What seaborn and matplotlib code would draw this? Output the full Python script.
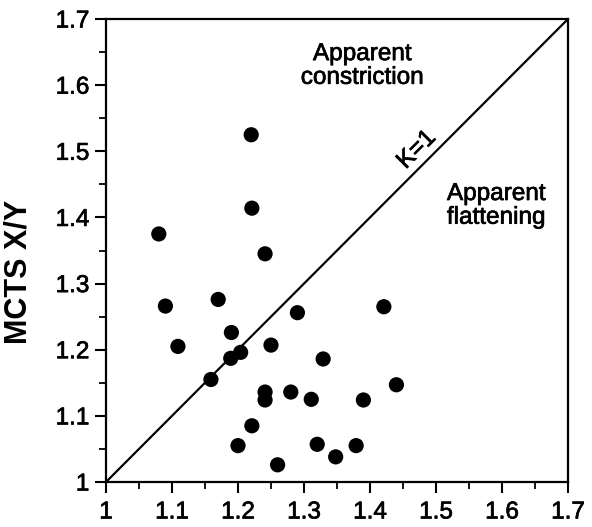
import matplotlib
matplotlib.use("Agg")
import matplotlib.pyplot as plt
import matplotlib.patheffects as pe
from matplotlib.ticker import MultipleLocator
import seaborn as sns
import pandas as pd

# Observed X/Y ratios (horizontal axis) against MCTS X/Y
ratio_x = [1.220, 1.221, 1.080, 1.241, 1.090, 1.170, 1.290, 1.421, 1.190,
           1.109, 1.250, 1.329, 1.204, 1.189, 1.159, 1.241, 1.241, 1.280,
           1.311, 1.440, 1.390, 1.221, 1.200, 1.320, 1.379, 1.260, 1.348]
mcts_xy = [1.525, 1.414, 1.375, 1.345, 1.266, 1.276, 1.256, 1.265, 1.226,
           1.205, 1.207, 1.186, 1.196, 1.187, 1.155, 1.136, 1.124, 1.136,
           1.125, 1.147, 1.124, 1.085, 1.055, 1.057, 1.055, 1.026, 1.038]

identity = [1.0, 1.7]
tick_values = [1.0, 1.1, 1.2, 1.3, 1.4, 1.5, 1.6, 1.7]
tick_labels = ["1", "1.1", "1.2", "1.3", "1.4", "1.5", "1.6", "1.7"]

df = pd.DataFrame({"ratio": ratio_x, "mcts": mcts_xy})

sns.set_style("ticks")
plt.rcParams["font.family"] = ["Liberation Sans", "DejaVu Sans"]
plt.rcParams["text.color"] = "black"

heavy = [pe.withStroke(linewidth=0.5, foreground="black")]

fig = plt.figure(figsize=(5.92, 5.27), dpi=100)
ax = fig.add_axes([106 / 592, 1 - 482 / 527, 462 / 592, 463 / 527])

# K = 1 reference line
sns.lineplot(x=identity, y=identity, ax=ax, color="black", linewidth=1.6)

sns.scatterplot(data=df, x="ratio", y="mcts", ax=ax, s=120, color="black",
                edgecolor="none", linewidth=0, zorder=3)

ax.set_xlim(1.0, 1.7)
ax.set_ylim(1.0, 1.7)
ax.set_xticks(tick_values)
ax.set_xticklabels(tick_labels)
ax.set_yticks(tick_values)
ax.set_yticklabels(tick_labels)
ax.xaxis.set_minor_locator(MultipleLocator(0.05))
ax.yaxis.set_minor_locator(MultipleLocator(0.05))

ax.tick_params(axis="both", which="major", direction="out", length=8,
               width=1.5, color="black", labelsize=17.5, labelcolor="black")
ax.tick_params(axis="x", which="major", pad=6)
ax.tick_params(axis="y", which="major", pad=4)
ax.tick_params(axis="both", which="minor", direction="out", length=5,
               width=1.3, color="black")
for lbl in ax.get_xticklabels() + ax.get_yticklabels():
    lbl.set_path_effects(heavy)

for side in ["left", "bottom", "right", "top"]:
    ax.spines[side].set_visible(True)
    ax.spines[side].set_linewidth(1.6)
    ax.spines[side].set_color("black")

ax.set_xlabel("")
ax.set_ylabel("MCTS X/Y", fontsize=22, fontweight="bold", color="black")
ax.yaxis.set_label_coords(-0.158, 0.454)

notes = [
    ax.text(1.388, 1.629, "Apparent\nconstriction", ha="center", va="center",
            fontsize=17.5, linespacing=1.1, color="black"),
    ax.text(1.591, 1.4175, "Apparent\nflattening", ha="center", va="center",
            fontsize=17.5, linespacing=1.1, color="black"),
    ax.text(1.471, 1.502, "K=1", ha="center", va="center", rotation=45,
            fontsize=17.5, rotation_mode="anchor", color="black"),
]
for t in notes:
    t.set_path_effects(heavy)

fig.savefig("out.png", dpi=100, facecolor="white")
